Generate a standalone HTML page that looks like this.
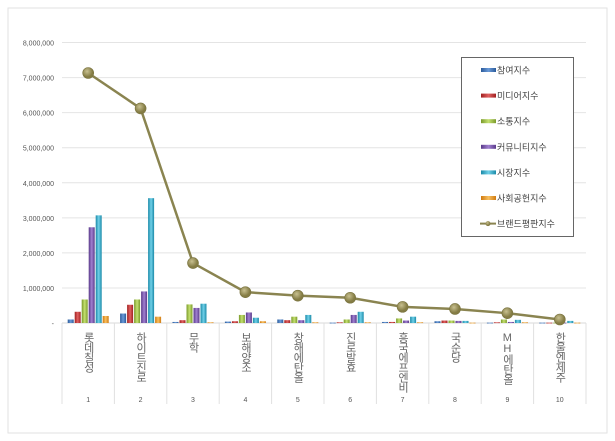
<!DOCTYPE html>
<html><head><meta charset="utf-8"><style>
body{margin:0;background:#fff;width:615px;height:441px;overflow:hidden;font-family:"Liberation Sans","Noto Sans CJK KR",sans-serif}
</style></head><body>
<svg id="c" width="615" height="441" style="position:absolute;left:0;top:0">
<defs>
<linearGradient id="gb" x1="0" x2="1"><stop offset="0" stop-color="#2a5a9a"/><stop offset=".5" stop-color="#6a9ad8"/><stop offset="1" stop-color="#2a5a9a"/></linearGradient>
<linearGradient id="gr" x1="0" x2="1"><stop offset="0" stop-color="#a02020"/><stop offset=".5" stop-color="#e06060"/><stop offset="1" stop-color="#a02020"/></linearGradient>
<linearGradient id="gg" x1="0" x2="1"><stop offset="0" stop-color="#7a9a2a"/><stop offset=".5" stop-color="#c4e070"/><stop offset="1" stop-color="#7a9a2a"/></linearGradient>
<linearGradient id="gp" x1="0" x2="1"><stop offset="0" stop-color="#5a3a8a"/><stop offset=".5" stop-color="#a080d0"/><stop offset="1" stop-color="#5a3a8a"/></linearGradient>
<linearGradient id="gc" x1="0" x2="1"><stop offset="0" stop-color="#1a8aa8"/><stop offset=".5" stop-color="#70d0e8"/><stop offset="1" stop-color="#1a8aa8"/></linearGradient>
<linearGradient id="go" x1="0" x2="1"><stop offset="0" stop-color="#d07a10"/><stop offset=".5" stop-color="#f8c060"/><stop offset="1" stop-color="#d07a10"/></linearGradient>
<radialGradient id="gm" cx=".4" cy=".35"><stop offset="0" stop-color="#c8c090"/><stop offset="1" stop-color="#847c44"/></radialGradient>
</defs>
<rect x="8" y="8" width="599" height="425" fill="#fff" stroke="#e2e2e2"/>
</svg>
<script>
const categories=["롯데칠성","하이트진로","무학","보해양조","창해에탄올","진로발효","흥국에프엔비","국순당","MH에탄올","한울엔제주"];
const ranks=["1","2","3","4","5","6","7","8","9","10"];
const seriesNames=["참여지수","미디어지수","소통지수","커뮤니티지수","시장지수","사회공헌지수"];
const participation=[100000,270000,30000,40000,100000,10000,30000,50000,10000,10000];
const media=[320000,520000,80000,50000,80000,20000,30000,70000,20000,10000];
const communication=[670000,670000,530000,230000,180000,100000,130000,70000,100000,10000];
const community=[2730000,900000,430000,300000,80000,230000,70000,60000,30000,10000];
const market=[3070000,3560000,550000,150000,230000,320000,180000,60000,90000,60000];
const social=[200000,180000,20000,50000,20000,20000,20000,10000,20000,10000];
const brandIndex=[7130000,6120000,1710000,880000,780000,720000,460000,400000,280000,100000];
const yTicks=[0,1000000,2000000,3000000,4000000,5000000,6000000,7000000,8000000];
const yTickLabels=["-","1,000,000","2,000,000","3,000,000","4,000,000","5,000,000","6,000,000","7,000,000","8,000,000"];

const svg=document.getElementById('c');const NS='http://www.w3.org/2000/svg';
const X0=62,X1=586,Y0=323,YT=42.5,MAX=8000000;
const bw=(X1-X0)/categories.length;
const y=v=>Y0-(v/MAX)*(Y0-YT);
const xc=i=>X0+bw*(i+0.5);
function mk(t,a){const e=document.createElementNS(NS,t);for(const k in a)e.setAttribute(k,a[k]);svg.appendChild(e);return e;}
yTicks.forEach((t,i)=>{
  if(i>0){const l=mk('line',{x1:X0,x2:X1,y1:y(t),y2:y(t),stroke:'#e4e4e4'});
  
  }
  const tx=mk('text',{x:54,y:y(t)+3,'text-anchor':'end','font-size':'7','fill':'#555'});
  tx.textContent=yTickLabels[i];
  
  
});
const ax=mk('line',{x1:X0,x2:X1,y1:Y0,y2:Y0,stroke:'#d8d8d8'});


for(let i=0;i<=categories.length;i++){
  const l=mk('line',{x1:X0+bw*i,x2:X0+bw*i,y1:Y0,y2:404,stroke:'#e0e0e0'});
  
  
}
categories.forEach((c,i)=>{
  const t=mk('text',{x:xc(i),y:332,'font-size':'11','fill':'#666','writing-mode':'vertical-rl','style':'text-orientation:upright;letter-spacing:-1px'});
  t.textContent=c;
  
  
  const r=mk('text',{x:xc(i),y:402,'text-anchor':'middle','font-size':'7','fill':'#555'});
  r.textContent=ranks[i];
  
  
});
const series=[participation,media,communication,community,market,social];
const fills=['url(#gb)','url(#gr)','url(#gg)','url(#gp)','url(#gc)','url(#go)'];
const barW=6,step=7;
series.forEach((s,si)=>{
  s.forEach((v,i)=>{
    const bx=xc(i)-3*step+si*step+0.5;
    const r=mk('rect',{x:bx,y:y(v),width:barW,height:Math.max(Y0-y(v),0.8),fill:fills[si]});
    
    
  });
});
const pl=mk('polyline',{points:brandIndex.map((v,i)=>xc(i)+','+y(v)).join(' '),fill:'none',stroke:'#8a8450','stroke-width':'2.5'});


brandIndex.forEach((v,i)=>{
  const c=mk('circle',{cx:xc(i),cy:y(v),r:5.5,fill:'url(#gm)',stroke:'#7a7440','stroke-width':'0.6'});
  
  
});
// legend
const lg=mk('rect',{x:461.5,y:57.5,width:112,height:179,fill:'#fff',stroke:'#666'});


const legNames=seriesNames.concat(['브랜드평판지수']);
legNames.forEach((n,i)=>{
  const ly=70+i*25.6;
  if(i<6){const r=mk('rect',{x:481,y:ly-2,width:15,height:4,fill:fills[i]});
    
    }
  else{const l=mk('line',{x1:480,x2:496,y1:ly,y2:ly,stroke:'#8a8450','stroke-width':'2'});
    
    
    const c=mk('circle',{cx:488,cy:ly,r:2.5,fill:'url(#gm)'});
    
    }
  const t=mk('text',{x:497,y:ly+3.5,'font-size':'9','fill':'#444'});
  t.textContent=n;
  
  
});
</script>
</body></html>
